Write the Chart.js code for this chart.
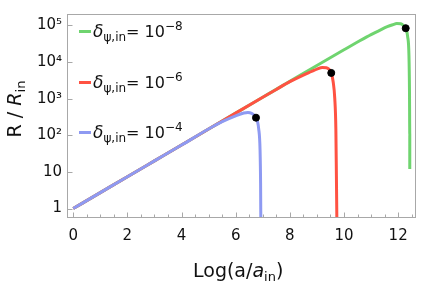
<!DOCTYPE html>
<html>
<head>
<meta charset="utf-8">
<script src="https://cdn.jsdelivr.net/npm/chart.js@4/dist/chart.umd.min.js"></script>
<style>
  body { margin: 0; background: #fff; }
  #wrap { position: relative; width: 421px; height: 284px; font-family: "DejaVu Sans", sans-serif; color: #111; }
  #c { position: absolute; left: 0; top: 0; }
  .leg { position: absolute; left: 79px; font-size: 16px; line-height: 16px; white-space: nowrap; }
  .leg .sw { display: inline-block; width: 12px; height: 3px; vertical-align: middle; margin-right: 2px; position: relative; top: -1px; }
  .leg i.d { font-size: 17px; }
  .leg sub { font-size: 12px; vertical-align: -4px; }
  .leg sup { font-size: 12px; vertical-align: 7px; }
  #xt { position: absolute; left: 193px; top: 259px; font-size: 19px; white-space: nowrap; }
  #xt sub, #yt sub { font-size: 13px; vertical-align: -4px; }
  #yt { position: absolute; left: 15px; top: 109px; font-size: 19px; white-space: nowrap; transform: translate(-50%, -50%) rotate(-90deg); }
</style>
</head>
<body>
<div id="wrap">
  <canvas id="c" width="421" height="284"></canvas>
  <div id="legend"></div>
  <div id="xt">Log(a/<i>a</i><sub>in</sub>)</div>
  <div id="yt">R / <i>R</i><sub>in</sub></div>
</div>
<script>
// Trục x = Log(a/a_in), trục y = R/R_in (log)
const blueX = [0, 1, 2, 3, 4, 5, 5.5, 6.0, 6.3, 6.45, 6.6, 6.75, 6.85, 6.9, 6.92, 6.93];
const blueY = [1, 2.72, 7.4, 20, 54, 148, 235, 340, 405, 420, 390, 302, 150, 40, 5, 0.3];

const redX = [0, 1, 2, 3, 4, 5, 6, 7, 7.5, 8, 8.5, 8.8, 9.0, 9.2, 9.35, 9.45, 9.53, 9.6, 9.66, 9.7, 9.72, 9.74];
const redY = [1, 2.72, 7.4, 20, 54, 148, 403, 1090, 1780, 2900, 4400, 5500, 6400, 7100, 7000, 6300, 5030, 2900, 1000, 150, 8, 0.3];

const greenX = [0, 1, 2, 3, 4, 5, 6, 7, 8, 9, 10, 10.5, 11, 11.3, 11.6, 11.8, 11.95, 12.1, 12.2, 12.28, 12.35, 12.4, 12.42, 12.43, 12.43];
const greenY = [1, 2.72, 7.4, 20, 54, 148, 403, 1090, 2950, 8000, 21500, 35000, 56000, 72000, 92000, 104000, 112000, 110000, 99000, 83500, 50000, 15000, 1500, 100, 12];

// chấm đen tại điểm quay đầu
const dotX = [6.75, 9.53, 12.28];
const dotY = [302, 5030, 83500];

const seriesNames = ['green', 'red', 'blue'];
const seriesExp = ['\u22128', '\u22126', '\u22124'];
const seriesColors = ['#6fd46f', '#ff5242', '#8e9af2'];

const xTicks = [0, 2, 4, 6, 8, 10, 12];
const yTicks = [1, 10, 100, 1000, 10000, 100000];
const yTickLabels = ['1', '10', '10\u00b2', '10\u00b3', '10\u2074', '10\u2075'];

const pts = (xs, ys) => xs.map((x, i) => ({ x: x, y: ys[i] }));

// Chú thích (legend) bằng HTML để có chỉ số trên/dưới
const legTops = [18, 69, 119];
document.getElementById('legend').innerHTML = seriesNames.map((n, i) =>
  `<div class="leg" style="top:${legTops[i]}px"><span class="sw" style="background:${seriesColors[i]}"></span><i class="d">δ</i><sub>ψ,in</sub>= 10<sup>${seriesExp[i]}</sup></div>`
).join('');

// Khung + vạch chia hướng vào trong
const framePlugin = {
  id: 'frame',
  afterDraw(chart) {
    const ctx = chart.ctx;
    const a = chart.chartArea;
    const xs = chart.scales.x, ys = chart.scales.y;
    ctx.save();
    ctx.strokeStyle = '#a8a8a8';
    ctx.lineWidth = 1;
    ctx.strokeRect(Math.round(a.left) + 0.5, Math.round(a.top) + 0.5, Math.round(a.right - a.left) - 1, Math.round(a.bottom - a.top) - 1);
    ctx.beginPath();
    const b = Math.round(a.bottom) - 0.5;
    for (let i = 0; i < xTicks.length; i++) {
      const v = xTicks[i];
      const px = Math.round(xs.getPixelForValue(v)) + 0.5;
      ctx.moveTo(px, b); ctx.lineTo(px, b - 5);
      for (let k = 1; k < 4; k++) {
        const m = v + k * 0.5;
        if (m > xs.max) break;
        const mx = Math.round(xs.getPixelForValue(m)) + 0.5;
        ctx.moveTo(mx, b); ctx.lineTo(mx, b - 3);
      }
    }
    const l = Math.round(a.left) + 0.5;
    yTicks.forEach(v => {
      const py = Math.round(ys.getPixelForValue(v)) + 0.5;
      ctx.moveTo(l, py); ctx.lineTo(l + 5, py);
    });
    ctx.stroke();
    ctx.restore();
  }
};

const lineDs = (i, xs, ys) => ({
  type: 'line',
  data: pts(xs, ys),
  borderColor: seriesColors[i],
  borderWidth: 3,
  pointRadius: 0,
  fill: false,
  cubicInterpolationMode: 'monotone'
});

new Chart(document.getElementById('c'), {
  type: 'line',
  data: {
    datasets: [
      { type: 'scatter', data: pts(dotX, dotY), backgroundColor: '#000', borderColor: '#000', pointRadius: 3.5, showLine: false },
      lineDs(2, blueX, blueY),
      lineDs(1, redX, redY),
      lineDs(0, greenX, greenY)
    ]
  },
  options: {
    responsive: false,
    animation: false,
    devicePixelRatio: 1,
    layout: { padding: { top: 1, right: 2, left: 0, bottom: 0 } },
    plugins: { legend: { display: false }, tooltip: { enabled: false } },
    scales: {
      x: {
        type: 'linear',
        min: -0.23,
        max: 12.66,
        grid: { display: false, drawTicks: false },
        border: { display: false },
        ticks: {
          stepSize: 2,
          includeBounds: false,
          padding: 9,
          color: '#111',
          font: { family: 'DejaVu Sans', size: 15 }
        },
        afterBuildTicks: s => { s.ticks = xTicks.map(v => ({ value: v })); },
        afterFit: s => { s.height = 66; }
      },
      y: {
        type: 'logarithmic',
        min: 0.552,
        max: 204000,
        grid: { display: false, drawTicks: false },
        border: { display: false },
        ticks: {
          padding: 5,
          color: '#111',
          font: { family: 'DejaVu Sans', size: 15 },
          callback: (v) => {
            const i = yTicks.indexOf(v);
            return i >= 0 ? yTickLabels[i] : '';
          }
        },
        afterBuildTicks: s => { s.ticks = yTicks.map(v => ({ value: v })); },
        afterFit: s => { s.width = 67; }
      }
    }
  },
  plugins: [framePlugin]
});
</script>
</body>
</html>
